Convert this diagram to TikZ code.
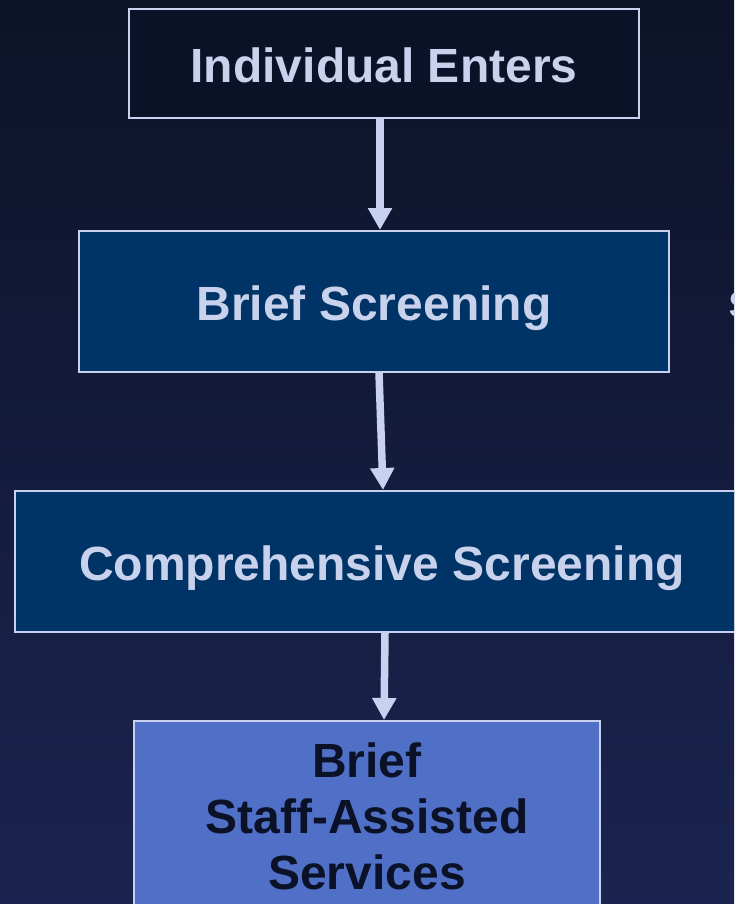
\documentclass[tikz,border=0pt]{standalone}
\usepackage{fontspec}
\setmainfont{Liberation Sans}
\usetikzlibrary{arrows.meta}
\definecolor{bgTop}{RGB}{13,19,40}
\definecolor{bgBottom}{RGB}{27,36,80}
\definecolor{boxLine}{RGB}{200,210,240}
\definecolor{boxDark}{RGB}{11,17,38}
\definecolor{boxNavy}{RGB}{0,51,102}
\definecolor{boxBlue}{RGB}{80,112,200}
\definecolor{textLight}{RGB}{200,210,236}

\begin{document}
\begin{tikzpicture}[x=1pt,y=-1pt,
    stepbox/.style={draw=boxLine, line width=2pt, inner sep=0pt, align=center,
        font=\fontsize{48}{56}\selectfont\bfseries, text=textLight},
    oneline/.style={text height=38pt, text depth=0pt},
    flowarrow/.style={-{Triangle[width=23pt,length=22pt]}, line width=7.5pt, draw=boxLine}]
    % page and background
    \path[use as bounding box] (0,0) rectangle (734,904);
    \clip (0,0) rectangle (734,904);
    \shade[top color=bgTop, bottom color=bgBottom] (0,0) rectangle (734,904);

    % boxes
    \node[stepbox, oneline, fill=boxDark, minimum width=510pt, minimum height=109pt] (enters) at (384,63.5) {Individual Enters};
    \node[stepbox, oneline, fill=boxNavy, minimum width=590pt, minimum height=141pt] (brief) at (374,301.5) {Brief Screening};
    \node[stepbox, oneline, fill=boxNavy, minimum width=734pt, minimum height=141pt] (comprehensive) at (382,561.5) {Comprehensive Screening};
    \node[stepbox, fill=boxBlue, text=boxDark, minimum width=466pt, minimum height=190pt] (staff) at (367,816) {Brief\\Staff-Assisted\\Services};

    % text cut off at the right edge
    \node[font=\fontsize{48}{56}\selectfont\bfseries, text=textLight, anchor=base west, inner sep=0pt] (sideS) at (728,317) {s};

    % arrows
    \draw[flowarrow] ([xshift=-4pt]enters.south) -- ([xshift=6pt]brief.north);
    \draw[flowarrow] ([xshift=5pt]brief.south) -- ([xshift=1pt]comprehensive.north);
    \draw[flowarrow] ([xshift=3pt]comprehensive.south) -- ([xshift=17pt]staff.north);
\end{tikzpicture}
\end{document}
